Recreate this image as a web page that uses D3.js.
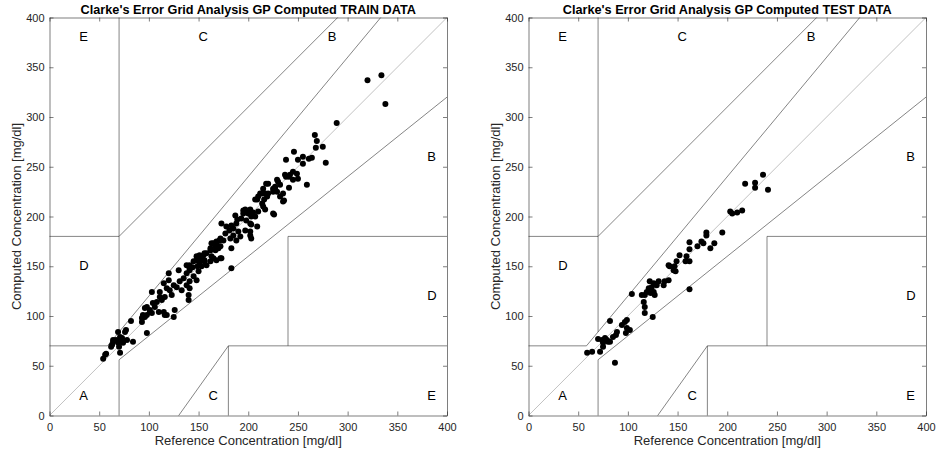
<!doctype html>
<html>
  <head>
    <script src="https://cdnjs.cloudflare.com/ajax/libs/d3/7.8.5/d3.min.js"></script>
    <style>
      body { margin: 0; background: #fff; }
      text { font-family: "Liberation Sans", Arial, Helvetica, sans-serif; fill: #262626; }
    </style>
  </head>
  <body>
    <svg width="936" height="456"></svg>
    <script>
        // zone boundaries of the Clarke error grid [x1, y1, x2, y2]
        var zoneLines = [
            [0, 70, 175/3, 70], [175/3, 70, 400/1.2, 400], [70, 84, 70, 400],
            [0, 180, 70, 180], [70, 180, 290, 400], [70, 0, 70, 56],
            [70, 56, 400, 320], [180, 0, 180, 70], [180, 70, 400, 70],
            [240, 70, 240, 180], [240, 180, 400, 180], [130, 0, 180, 70]
        ];
        var diagonal = [0, 0, 400, 400];
        var zoneLabels = [
            ["A", 30, 20], ["B", 380, 260], ["B", 280, 380], ["C", 150, 380],
            ["C", 160, 20], ["D", 30, 150], ["D", 380, 120], ["E", 30, 380], ["E", 380, 20]
        ];
        var ticks = [0, 50, 100, 150, 200, 250, 300, 350, 400];

        var trainPoints = [
            [54,57],[56,61],[57,62],[62,69],[64,74],[67,76],[71,79],[69,84],[77,86],[73,76],
            [78,76],[84,74],[71,63],[70,69],[82,95],[63,71],[69,73],[74,73],[64,76],[76,84],[73,78],
            [94,99],[93,94],[98,101],[101,104],[103,124],[116,101],[125,99],[126,106],[98,83],[96,108],
            [101,106],[94,101],[93,98],[96,99],[103,103],[110,104],[115,104],[118,101],[98,109],[104,113],
            [106,109],[108,114],[111,119],[111,124],[113,116],[116,119],[115,133],[118,128],[120,136],[120,143],
            [121,126],[123,121],[125,131],[128,129],[130,146],[131,135],[133,126],[135,138],[138,143],[138,131],
            [140,121],[140,116],[141,146],[141,151],[141,135],[141,128],[145,155],[145,140],[148,136],[148,160],
            [150,145],[151,156],[153,150],[155,161],[156,155],
            [144,149],[141,148],[138,151],[148,156],[151,153],[149,150],[158,151],[165,158],[172,158],[156,163],
            [151,161],[153,158],[156,156],[162,155],[158,163],[162,166],[163,160],[167,166],[165,173],[168,175],
            [170,168],[168,156],[173,158],[172,178],[175,176],[177,183],[173,193],[178,190],[181,186],[182,178],
            [183,191],[185,188],[185,181],[188,176],[183,168],[183,148],[188,193],[190,185],[192,180],[197,186],
            [187,201],[189,197],[193,198],[198,196],[197,207],[195,203],[200,203],[203,192],[207,200],[210,205],
            [202,181],[203,178],[209,190],[202,193],[202,185],[171,176],[168,173],[163,173],[162,168],[167,170],[172,170],
            [205,204],[203,200],[199,205],[195,206],[202,207],[209,217],[214,213],[215,210],[217,207],[210,220],
            [214,223],[217,223],[219,220],[212,223],[216,217],[207,217],[215,228],[218,233],[220,223],[220,233],
            [225,203],[226,202],[225,228],[227,230],[229,225],[229,237],[230,235],[232,232],[227,228],[225,225],
            [235,223],[232,220],[235,215],[236,216],[241,229],[237,242],[241,240],[238,240],[242,242],[245,237],
            [249,243],[250,238],[245,245],[246,265],[238,257],[250,257],[255,260],[255,253],[261,258],[264,259],[259,232],
            [267,282],[269,276],[268,269],[275,270],[278,254],[289,294],[320,337],[334,342],[338,313]
        ];

        var testPoints = [
            [236,242],[228,234],[218,233],[228,229],[241,227],[203,205],[205,203],[210,204],[215,206],[195,184],
            [179,184],[179,181],[174,175],[176,173],[170,170],[162,174],[162,167],[187,173],[183,168],[159,160],
            [162,155],[152,161],[162,127],[158,155],[149,155],[147,150],[146,146],[142,150],[141,151],[148,145],
            [141,136],[137,135],[136,131],[131,135],[129,131],[126,133],[124,129],[122,135],[121,128],[119,124],
            [126,124],[127,121],[123,123],[117,121],[114,121],[116,114],[117,109],[117,103],[125,99],[104,122],
            [99,96],[97,94],[94,91],[99,88],[89,84],[102,86],[98,83],[82,95],[88,81],[85,79],
            [79,76],[80,74],[77,78],[74,76],[70,77],[75,73],[82,74],[75,69],[72,64],[64,64],[59,63],[87,53]
        ];

        var svg = d3.select("svg");

        function drawPanel(left, title, points){
            var x = d3.scaleLinear().domain([0, 400]).range([left, left + 397.5]);
            var y = d3.scaleLinear().domain([0, 400]).range([415.5, 17.5]);
            var g = svg.append("g");

            g.append("line")
                .attr("x1", x(diagonal[0])).attr("y1", y(diagonal[1]))
                .attr("x2", x(diagonal[2])).attr("y2", y(diagonal[3]))
                .attr("stroke", "#a8a8a8").attr("stroke-width", 0.7);

            g.selectAll(".zone")
                .data(zoneLines)
                .enter()
                .append("line")
                    .attr("x1", d => x(d[0])).attr("y1", d => y(d[1]))
                    .attr("x2", d => x(d[2])).attr("y2", d => y(d[3]))
                    .attr("stroke", "#333").attr("stroke-width", 0.6);

            g.selectAll(".lbl")
                .data(zoneLabels)
                .enter()
                .append("text")
                    .attr("x", d => x(d[1]))
                    .attr("y", d => y(d[2]))
                    .attr("dy", "0.3em")
                    .attr("font-size", "13px")
                    .style("fill", "#000")
                    .text(d => d[0]);

            g.selectAll("circle")
                .data(points)
                .enter()
                .append("circle")
                    .attr("cx", d => x(d[0]))
                    .attr("cy", d => y(d[1]))
                    .attr("r", 3)
                    .attr("fill", "#000");

            var axes = [
                [d3.axisBottom(x), "translate(0," + y(0) + ")", true, 8],
                [d3.axisLeft(y), "translate(" + x(0) + ",0)", true, 5],
                [d3.axisTop(x), "translate(0," + y(400) + ")", false, 3],
                [d3.axisRight(y), "translate(" + x(400) + ",0)", false, 3]
            ];
            axes.forEach(function(a){
                var ax = a[0].tickValues(ticks).tickSizeInner(-4).tickSizeOuter(0).tickPadding(a[3]);
                if (!a[2]) ax.tickFormat("");
                var ga = g.append("g").attr("transform", a[1]).call(ax);
                ga.select(".domain").attr("stroke", "#262626").attr("stroke-width", 0.6);
                ga.selectAll(".tick line").attr("stroke", "#262626").attr("stroke-width", 0.6);
                ga.selectAll(".tick text").attr("font-size", "11px").attr("font-family", null).style("fill", "#262626");
            });

            g.append("text")
                .attr("x", (x(0) + x(400)) / 2).attr("y", 14)
                .attr("text-anchor", "middle")
                .attr("font-size", "12.7px").attr("font-weight", "bold")
                .style("fill", "#000")
                .text(title);

            g.append("text")
                .attr("x", (x(0) + x(400)) / 2).attr("y", 445)
                .attr("text-anchor", "middle")
                .attr("font-size", "13px")
                .text("Reference Concentration [mg/dl]");

            g.append("text")
                .attr("transform", "translate(" + (x(0) - 29) + "," + ((y(0) + y(400)) / 2) + ") rotate(-90)")
                .attr("text-anchor", "middle")
                .attr("font-size", "13px")
                .text("Computed Concentration [mg/dl]");
        }

        drawPanel(49.5, "Clarke's Error Grid Analysis GP Computed TRAIN DATA", trainPoints);
        drawPanel(528.5, "Clarke's Error Grid Analysis GP Computed TEST DATA", testPoints);
    </script>
  </body>
</html>
